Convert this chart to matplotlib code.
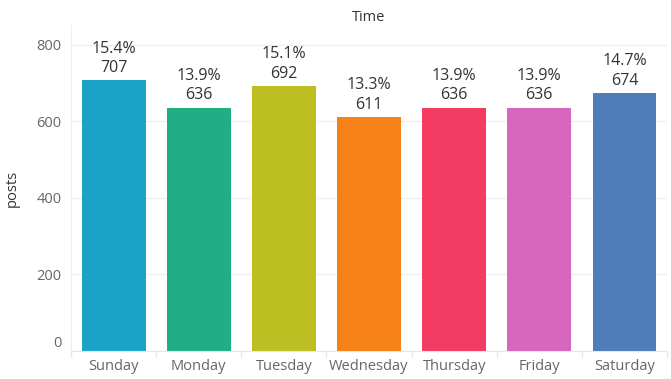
import matplotlib.pyplot as plt
import numpy as np

days = ["Sunday", "Monday", "Tuesday", "Wednesday", "Thursday", "Friday", "Saturday"]
posts = [707, 636, 692, 611, 636, 636, 674]
pct_labels = ["15.4%", "13.9%", "15.1%", "13.3%", "13.9%", "13.9%", "14.7%"]
colors = ["#1AA3C7", "#20AE85", "#BCBE22", "#F68217", "#F43B62", "#D767BD", "#4E7DBA"]
yticks = [0, 200, 400, 600, 800]

plt.rcParams["font.family"] = ["Open Sans", "DejaVu Sans"]

W, H = 671, 379
fig = plt.figure(figsize=(W / 100, H / 100), dpi=100)
ax = fig.add_axes([71 / W, 1 - 351 / H, (667 - 71) / W, (351 - 25) / H])

x = np.arange(len(days))
ax.bar(x, posts, width=0.75, color=colors, zorder=2)
for xi, v, p in zip(x, posts, pct_labels):
    ax.annotate(f"{p}\n{v}", (xi, v), xytext=(0, 3), textcoords="offset points",
                ha="center", va="bottom", fontsize=11.5, color="#333333", linespacing=1.3)

ax.set_xlim(-0.5, len(days) - 0.5)
ax.set_ylim(0, 852)
ax.set_yticks(yticks)
ax.set_yticklabels([str(t) for t in yticks])
ax.set_xticks(x)
ax.set_xticklabels(days)
ax.tick_params(axis="both", length=0, labelsize=10.5, labelcolor="#666666")
ax.tick_params(axis="y", pad=7)
ax.tick_params(axis="x", pad=6)
ax.get_yticklabels()[0].set_va("bottom")

# category separators at the bottom
ax.set_xticks(np.arange(len(days) + 1) - 0.5, minor=True)
ax.tick_params(axis="x", which="minor", length=4, color="#e6e6e6", width=1)

ax.grid(axis="y", color="#f0f0f0", lw=1, zorder=0)
for s in ["top", "right"]:
    ax.spines[s].set_visible(False)
ax.spines["left"].set_color("#eeeeee")
ax.spines["bottom"].set_color("#e6e6e6")

ax.set_ylabel("posts", fontsize=10.5, color="#333333", labelpad=12)
ax.set_title("Time", fontsize=10.5, color="#333333", pad=3)

fig.savefig("out.png", dpi=100)
